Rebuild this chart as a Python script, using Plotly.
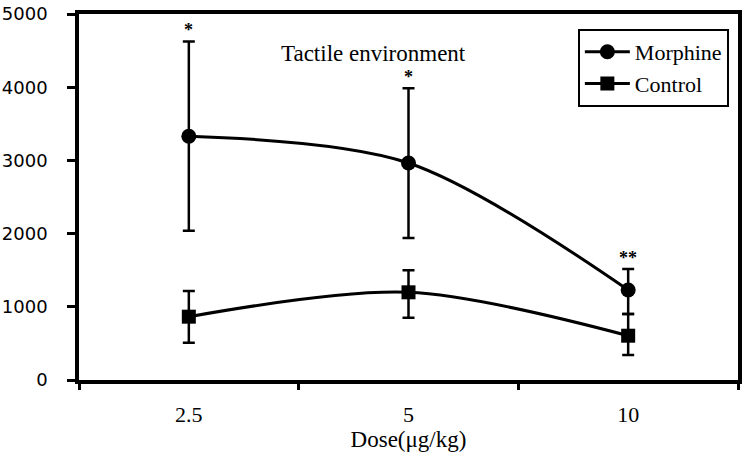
import plotly.graph_objects as go

doses = ["2.5", "5", "10"]
morphine = [3330, 2965, 1230]
morphine_err_plus = [1295, 1020, 285]
morphine_err_minus = [1290, 1025, 330]
control = [865, 1198, 605]
control_err_plus = [350, 300, 295]
control_err_minus = [355, 347, 263]
stars = ["*", "*", "**"]

SERIF = "Liberation Serif"
SANS = "DejaVu Sans"

fig = go.Figure()
fig.add_trace(go.Scatter(
    x=doses, y=morphine, name="Morphine", mode="lines+markers",
    line=dict(color="black", width=3, shape="spline", smoothing=0.9),
    marker=dict(symbol="circle", size=15, color="black"),
    error_y=dict(type="data", array=morphine_err_plus, arrayminus=morphine_err_minus,
                 color="black", thickness=2.5, width=6),
))
fig.add_trace(go.Scatter(
    x=doses, y=control, name="Control", mode="lines+markers",
    line=dict(color="black", width=3, shape="spline", smoothing=0.9),
    marker=dict(symbol="square", size=14, color="black"),
    error_y=dict(type="data", array=control_err_plus, arrayminus=control_err_minus,
                 color="black", thickness=2.5, width=6),
))

for i, (m, e, s) in enumerate(zip(morphine, morphine_err_plus, stars)):
    fig.add_annotation(x=i, y=m + e, text="<b>" + s + "</b>", showarrow=False, yanchor="bottom",
                       yshift=-1, font=dict(family=SERIF, size=18, color="black"))

fig.add_annotation(x=0.447, y=0.893, xref="paper", yref="paper", text="Tactile environment",
                   showarrow=False, yanchor="middle", xanchor="center",
                   font=dict(family=SERIF, size=23, color="black"))

fig.update_layout(
    width=750, height=460,
    margin=dict(l=79, r=12, t=14, b=80),
    paper_bgcolor="white", plot_bgcolor="white",
    font=dict(family=SERIF, color="black"),
    showlegend=True,
    legend=dict(x=0.757, y=0.959, xanchor="left", yanchor="top",
                bordercolor="black", borderwidth=2, bgcolor="white",
                font=dict(family=SERIF, size=22, color="black"),
                itemwidth=45, tracegroupgap=0),
    xaxis=dict(type="category", range=[-0.5, 2.5], tickson="boundaries",
               showline=True, linecolor="black", linewidth=3.5, mirror=True,
               ticks="outside", ticklen=6, tickwidth=3, tickcolor="black",
               ticklabelstandoff=12, automargin=False,
               tickfont=dict(family=SERIF, size=22, color="black"),
               title=dict(text="Dose(μg/kg)", font=dict(family=SERIF, size=23, color="black"), standoff=0),
               showgrid=False, zeroline=False),
    yaxis=dict(range=[0, 5000], dtick=1000,
               showline=True, linecolor="black", linewidth=3.5, mirror=True,
               ticks="outside", ticklen=8, tickwidth=2.5, tickcolor="black",
               ticklabelstandoff=16, automargin=False,
               tickfont=dict(family=SANS, size=18, color="black"),
               showgrid=False, zeroline=False),
)

fig.write_html("out.html", config={"displayModeBar": False},
               post_script="document.body.style.margin='0';")
